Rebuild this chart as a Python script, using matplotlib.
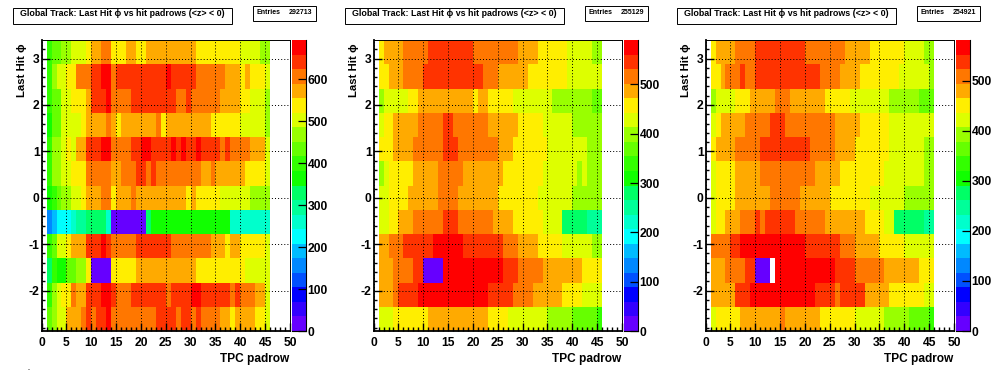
import numpy as np
import matplotlib
matplotlib.use('Agg')
import matplotlib.pyplot as plt
from matplotlib.colors import ListedColormap, Normalize
from matplotlib.cm import ScalarMappable
from matplotlib.patches import Rectangle

plt.rcParams['font.family'] = ['Liberation Sans', 'DejaVu Sans']
plt.rcParams['font.weight'] = 'bold'
plt.rcParams['axes.unicode_minus'] = False

W, H = 996, 372

titles = ['Global Track: Last Hit ϕ vs hit padrows (<z> < 0)'] * 3
entries = [292713, 255129, 254921]
z_max = [693, 590, 581]
z_ticks = [[0, 100, 200, 300, 400, 500, 600],
           [0, 100, 200, 300, 400, 500],
           [0, 100, 200, 300, 400, 500]]
x_ticks = [0, 5, 10, 15, 20, 25, 30, 35, 40, 45, 50]
y_ticks = [-2, -1, 0, 1, 2, 3]

palette = ['#6600ff', '#3300ff', '#0000ff', '#0050ff', '#0088ff', '#00bbff', '#00ffff',
           '#00ffcc', '#00ff99', '#00ff66', '#11ff00', '#33ff00', '#66ff00', '#99ff00',
           '#ddff00', '#ffee00', '#ffaa00', '#ff7700', '#ff3300', '#ff0000']

# each row is top to bottom, (counts, number of padrows)
left_rows = [
    [(399,1),(433,2),(468,2),(502,3),(537,1),(572,2),(606,2),(537,3),(572,2),(537,2),(572,10),(537,9),(502,4),(468,2)],
    [(399,1),(468,1),(502,2),(537,2),(606,3),(641,2),(676,2),(606,1),(641,10),(676,1),(641,5),(606,6),(572,3),(537,1),(572,1),(537,3),(502,1)],
    [(399,1),(433,2),(502,2),(537,3),(572,1),(641,3),(676,1),(606,4),(641,9),(606,2),(641,1),(606,6),(572,4),(537,2),(502,3),(468,1)],
    [(364,1),(433,2),(502,4),(537,1),(572,4),(606,1),(572,1),(537,1),(572,7),(606,1),(537,1),(572,9),(537,6),(502,5),(468,1)],
    [(399,1),(468,2),(502,1),(537,1),(502,1),(572,2),(641,3),(676,2),(606,4),(641,2),(676,2),(641,4),(676,1),(641,1),(676,1),(641,2),(676,1),(641,4),(606,1),(641,1),(606,4),(572,3),(502,1)],
    [(399,1),(468,2),(502,2),(537,3),(606,5),(572,2),(606,3),(641,2),(606,1),(641,1),(606,9),(572,2),(606,1),(572,6),(537,4),(502,1)],
    [(364,1),(399,1),(433,1),(468,2),(502,2),(537,1),(572,3),(606,2),(537,1),(572,3),(606,1),(572,10),(537,1),(572,1),(537,5),(502,6),(468,4)],
    [(156,1),(191,1),(225,3),(260,1),(295,2),(329,4),(260,1),(17,7),(329,1),(364,1),(364,15),(260,8)],
    [(399,1),(433,1),(502,2),(537,1),(572,3),(641,3),(676,1),(641,1),(606,5),(641,7),(606,8),(572,3),(537,1),(572,2),(537,5),(502,1)],
    [(329,1),(399,1),(364,2),(433,2),(468,2),(537,1),(17,4),(537,5),(572,12),(537,10),(502,5)],
    [(399,1),(468,1),(502,1),(537,2),(606,1),(572,2),(641,3),(676,2),(641,1),(606,3),(641,7),(606,1),(641,4),(676,2),(641,6),(606,1),(641,1),(606,3),(572,2),(502,1)],
    [(433,1),(468,1),(502,2),(572,3),(606,1),(641,1),(606,1),(641,2),(676,1),(606,9),(641,4),(606,1),(641,2),(606,1),(641,1),(606,4),(572,2),(537,1),(572,4),(537,2),(502,1)],
]
middle_rows = [
    [(457,1),(487,4),(516,5),(546,9),(516,9),(487,4),(457,6),(428,5),(398,2)],
    [(457,2),(487,3),(516,4),(546,12),(516,3),(487,6),(457,8),(428,7)],
    [(398,1),(428,5),(457,2),(487,11),(457,1),(487,2),(457,5),(428,8),(398,8),(369,2)],
    [(428,1),(457,2),(487,5),(516,5),(546,2),(516,7),(487,6),(457,5),(428,6),(398,6)],
    [(457,3),(487,4),(516,6),(546,3),(516,8),(487,3),(457,7),(428,8),(398,3)],
    [(398,1),(428,1),(457,5),(487,5),(516,5),(487,8),(457,8),(428,7),(398,1),(428,1),(398,3)],
    [(428,2),(457,4),(487,6),(516,4),(487,8),(457,8),(428,7),(398,6)],
    [(428,2),(457,2),(487,3),(516,6),(546,3),(516,7),(487,4),(457,6),(428,4),(280,5),(251,3)],
    [(487,2),(516,3),(546,6),(575,6),(546,8),(516,3),(487,4),(457,5),(428,6),(398,2)],
    [(487,3),(516,4),(546,2),(15,4),(575,12),(546,3),(516,5),(487,8),(457,4)],
    [(487,3),(516,1),(546,4),(575,14),(546,5),(516,4),(487,6),(457,4),(428,4)],
    [(428,3),(457,7),(487,12),(457,4),(428,8),(398,5),(369,5),(339,1)],
]
right_rows = [
    [(450,1),(479,4),(508,4),(537,10),(508,8),(479,5),(450,7),(421,4),(392,2)],
    [(450,2),(479,1),(508,3),(537,1),(508,2),(537,13),(508,4),(479,4),(450,8),(421,6),(392,1)],
    [(392,1),(421,4),(450,3),(479,5),(508,3),(479,7),(450,5),(421,8),(392,6),(363,3)],
    [(421,1),(450,1),(479,5),(508,5),(537,3),(508,10),(479,5),(450,6),(421,9)],
    [(450,1),(479,4),(508,5),(537,10),(508,5),(479,4),(450,7),(421,7),(392,2)],
    [(421,1),(450,4),(479,5),(508,11),(479,5),(450,9),(421,8),(392,2)],
    [(421,1),(450,4),(479,7),(508,6),(479,6),(450,8),(421,7),(392,6)],
    [(421,1),(450,2),(479,3),(508,3),(537,1),(508,1),(537,6),(508,6),(479,8),(450,4),(421,2),(276,6),(247,2)],
    [(508,4),(537,2),(566,13),(537,7),(508,3),(479,5),(450,5),(421,6)],
    [(479,3),(508,4),(537,2),(15,3),(0,1),(566,12),(537,4),(508,6),(479,7),(450,3)],
    [(479,5),(537,3),(566,13),(537,4),(508,1),(537,5),(479,5),(450,7),(421,2)],
    [(421,1),(450,5),(479,8),(508,1),(479,7),(450,7),(421,6),(392,5),(363,4),(334,1)],
]
panels = [left_rows, middle_rows, right_rows]


def expand(rows):
    grid = []
    for row in rows:
        vals = [v for v, n in row]
        counts = [n for v, n in row]
        grid.append(np.repeat(vals, counts))
    return np.array(grid[::-1], dtype=float)


def px_axes(x0, y0, x1, y1):
    return fig.add_axes([x0 / W, 1 - y1 / H, (x1 - x0) / W, (y1 - y0) / H])


fig = plt.figure(figsize=(W / 100, H / 100), dpi=100)
cmap = ListedColormap(palette)
x_edges = np.arange(1, 47)
y_edges = np.linspace(-2.87, 3.40, 13)

for i, rows in enumerate(panels):
    off = 332 * i
    ax = px_axes(41.6 + off, 40, 290 + off, 331)
    norm = Normalize(0, z_max[i])
    z = np.ma.masked_equal(expand(rows), 0)
    ax.pcolormesh(x_edges, y_edges, z, cmap=cmap, norm=norm, zorder=1)
    ax.set_xlim(0, 50)
    ax.set_ylim(-2.87, 3.40)
    ax.set_xticks(x_ticks)
    ax.set_yticks(y_ticks)
    ax.set_xticks(np.arange(0, 51), minor=True)
    ax.set_yticks(np.arange(-2.8, 3.4, 0.2), minor=True)
    ax.tick_params(which='major', direction='in', length=5.5, width=1, labelsize=8.7, zorder=4)
    ax.tick_params(axis='y', which='minor', direction='in', length=2.2, width=1)
    ax.tick_params(axis='x', which='minor', direction='in', length=3, width=1)
    ax.tick_params(axis='x', which='major', pad=4)
    ax.tick_params(axis='y', which='major', pad=1.5)
    ax.grid(True, color='black', lw=0.72, ls=(0, (1, 2.1)), zorder=3)
    ax.set_axisbelow(False)
    ax.spines['left'].set_linewidth(1.3)
    ax.spines['bottom'].set_linewidth(1.3)
    ax.spines['top'].set_linewidth(0.7)
    ax.spines['right'].set_linewidth(0.7)
    fig.text((289 + off) / W, 1 - 359 / H, 'TPC padrow', ha='right', va='center', fontsize=8.6)
    fig.text((22 + off) / W, 1 - 43 / H, 'Last Hit ϕ', rotation=90, ha='center', va='top', fontsize=8.2)

    cax = px_axes(292 + off, 40, 306 + off, 331)
    cb = fig.colorbar(ScalarMappable(norm=norm, cmap=cmap), cax=cax, ticks=z_ticks[i])
    cb.outline.set_visible(False)
    cax.spines['right'].set_visible(True)
    cax.spines['right'].set_linewidth(0.8)
    cax.spines['bottom'].set_visible(True)
    cax.spines['bottom'].set_linewidth(0.8)
    cax.tick_params(direction='in', length=5.5, width=0.9, labelsize=8.7, pad=1)
    cax.minorticks_off()

    fig.add_artist(Rectangle(((13.3 + off) / W, 1 - 23.7 / H), 218.4 / W, 16 / H, fill=False, ec='black',
                             lw=0.7, transform=fig.transFigure))
    fig.text((122.5 + off) / W, 1 - 14 / H, titles[i], ha='center', va='center', fontsize=6.4)
    fig.add_artist(Rectangle(((253.3 + off) / W, 1 - 20.7 / H), 62.4 / W, 14.7 / H, fill=False, ec='black',
                             lw=0.7, transform=fig.transFigure))
    fig.text((256.5 + off) / W, 1 - 12.7 / H, 'Entries', ha='left', va='center', fontsize=5)
    fig.text((312.5 + off) / W, 1 - 12.7 / H, str(entries[i]), ha='right', va='center', fontsize=5)

fig.text(28 / W, 1 - 368 / H, '.', ha='center', va='center', fontsize=5)
fig.savefig('out.png', dpi=100)
